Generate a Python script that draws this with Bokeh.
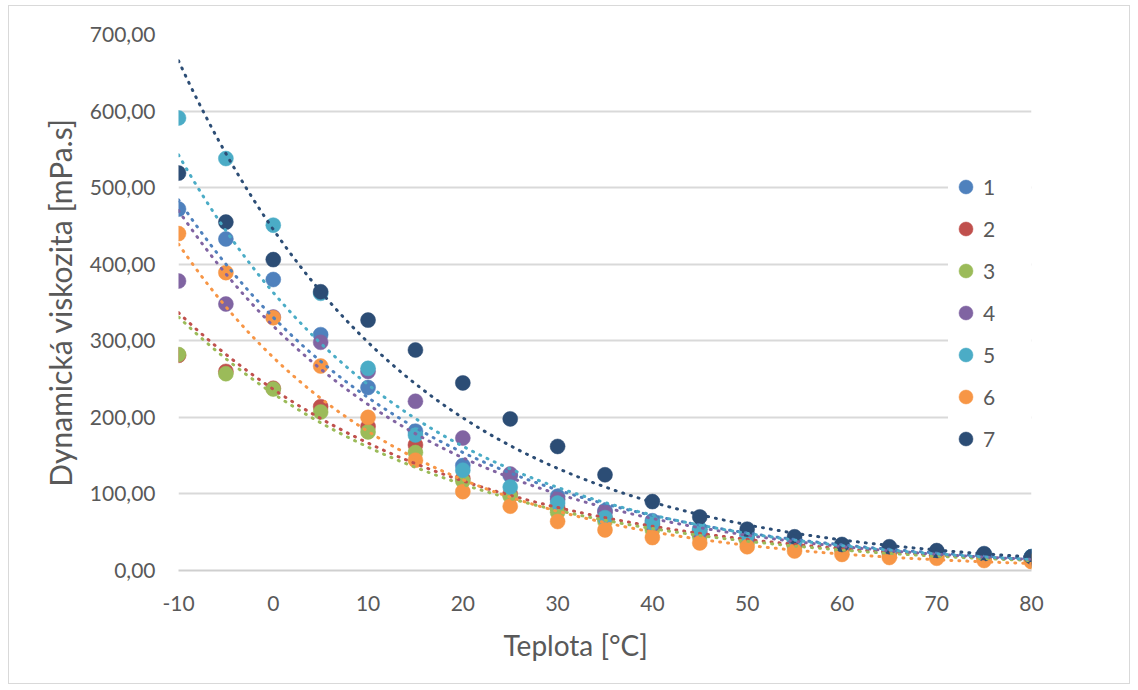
import numpy as np
from bokeh.plotting import figure
from bokeh.models import Range1d, Legend, LegendItem, FixedTicker, Title
from bokeh.embed import file_html
from bokeh.resources import INLINE

# ---- data ----
temps = [-10, -5, 0, 5, 10, 15, 20, 25, 30, 35, 40, 45, 50, 55, 60, 65, 70, 75, 80]
series_names = ["1", "2", "3", "4", "5", "6", "7"]
s1 = [472, 433, 380, 308, 239, 182, 137, 124, 97, 78, 65, 54, 46, 39, 33, 28, 24, 21, 18]
s2 = [281, 260, 238, 214, 188, 164, 120, 100, 82, 68, 57, 47, 40, 33, 28, 24, 20, 17, 14]
s3 = [282, 257, 237, 207, 181, 154, 117, 97, 76, 64, 53, 44, 37, 31, 26, 22, 19, 16, 13]
s4 = [378, 348, 331, 298, 260, 221, 173, 126, 93, 76, 60, 50, 42, 35, 30, 25, 22, 19, 16]
s5 = [591, 538, 451, 362, 264, 177, 131, 109, 88, 69, 62, 54, 46, 38, 33, 28, 24, 21, 18]
s6 = [440, 389, 330, 267, 200, 144, 103, 84, 64, 53, 43, 36, 31, 25.5, 21, 17, 16, 13, 11.5]
s7 = [519, 455, 406, 364, 327, 288, 245, 198, 162, 125, 90, 70, 54, 44, 34, 31, 26, 22, 18]
series_values = [s1, s2, s3, s4, s5, s6, s7]
colors = ["#4F81BD", "#C0504D", "#9BBB59", "#8064A2", "#4BACC6", "#F79646", "#2C4D75"]

x_ticks = [-10, 0, 10, 20, 30, 40, 50, 60, 70, 80]
x_tick_labels = ["-10", "0", "10", "20", "30", "40", "50", "60", "70", "80"]
y_ticks = [0, 100, 200, 300, 400, 500, 600, 700]
y_tick_labels = ["0,00", "100,00", "200,00", "300,00", "400,00", "500,00", "600,00", "700,00"]

x_title = "Teplota [°C]"
y_title = "Dynamická viskozita [mPa.s]"

TEXT = "#595959"
FONT = "Lato"

p = figure(width=1122, height=679, output_backend="svg", toolbar_location=None,
           x_range=Range1d(-10, 80), y_range=Range1d(0, 700),
           min_border_left=169, min_border_right=100, min_border_top=28, min_border_bottom=115)
p.margin = (5, 0, 0, 8)
p.styles = {"border": "1px solid #d9d9d9"}
p.outline_line_color = None
p.background_fill_color = "white"
p.border_fill_color = "white"

# axes
p.xaxis.ticker = FixedTicker(ticks=x_ticks)
p.yaxis.ticker = FixedTicker(ticks=y_ticks)
p.xaxis.major_label_overrides = {t: l for t, l in zip(x_ticks, x_tick_labels)}
p.yaxis.major_label_overrides = {t: l for t, l in zip(y_ticks, y_tick_labels)}
for ax in (p.xaxis, p.yaxis):
    ax.major_tick_line_color = None
    ax.minor_tick_line_color = None
    ax.major_label_text_font = FONT
    ax.major_label_text_font_size = "21px"
    ax.major_label_text_color = TEXT
    ax.axis_label_text_font = FONT
    ax.axis_label_text_font_style = "normal"
    ax.axis_label_text_color = TEXT
p.yaxis.axis_line_color = None
p.xaxis.axis_line_color = "#cfcfcf"
p.xaxis.axis_line_width = 2
p.yaxis.axis_label = y_title
p.yaxis.axis_label_text_font_size = "30px"
p.xaxis.major_label_standoff = 19
p.yaxis.major_label_standoff = 17
p.yaxis.axis_label_standoff = 9
# small spacer below the tick labels so the title sits a little lower
p.xaxis.axis_label = " "
p.xaxis.axis_label_text_font_size = "2px"
p.xaxis.axis_label_standoff = 4

xt = Title(text=x_title, align="left", offset=325, standoff=7,
           text_font=FONT, text_font_size="28px", text_font_style="normal", text_color=TEXT)
p.add_layout(xt, "below")

p.xgrid.grid_line_color = None
p.ygrid.grid_line_color = "#d9d9d9"
p.ygrid.grid_line_width = 2

# points
renderers = []
for vals, c in zip(series_values, colors):
    r = p.scatter(temps, vals, size=15, fill_color=c, line_color=c, line_width=0.5)
    renderers.append(r)

# exponential trendlines (least squares on log values, like Excel)
xf = np.linspace(temps[0], temps[-1], 300)
for vals, c in zip(series_values, colors):
    b, lna = np.polyfit(np.array(temps, float), np.log(np.array(vals, float)), 1)
    yf = np.exp(lna) * np.exp(b * xf)
    p.line(xf, yf, line_color=c, line_width=3, line_dash="1 7", line_cap="round")

legend = Legend(items=[LegendItem(label=n, renderers=[r]) for n, r in zip(series_names, renderers)],
                location=(770, 114), glyph_width=35, glyph_height=35, label_standoff=-12,
                spacing=7, padding=0, margin=0, label_width=64,
                label_text_font=FONT, label_text_font_size="21px", label_text_color=TEXT,
                border_line_color=None, background_fill_color="white", background_fill_alpha=1.0)
p.add_layout(legend)

open("out.html", "w").write(file_html(p, INLINE))
